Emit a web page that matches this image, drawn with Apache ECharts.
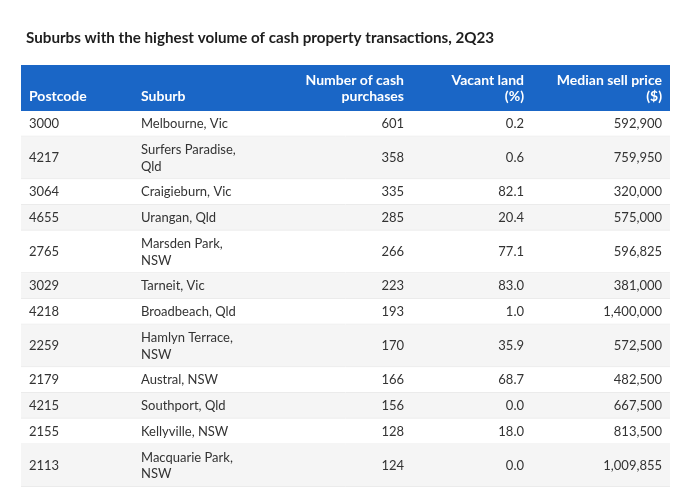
<!DOCTYPE html>
<html><head><meta charset="utf-8">
<script src="https://cdn.jsdelivr.net/npm/echarts@6/dist/echarts.min.js"></script>
<style>html,body{margin:0;padding:0;background:#fff}#c{width:680px;height:502px}</style>
</head><body><div id="c"></div>
<script>
const titleText = 'Suburbs with the highest volume of cash property transactions, 2Q23';
const headers = ['Postcode', 'Suburb', 'Number of cash\npurchases', 'Vacant land\n(%)', 'Median sell price\n($)'];
const postcodes = ['3000', '4217', '3064', '4655', '2765', '3029', '4218', '2259', '2179', '4215', '2155', '2113'];
const suburbs = ['Melbourne, Vic', 'Surfers Paradise,\nQld', 'Craigieburn, Vic', 'Urangan, Qld', 'Marsden Park,\nNSW', 'Tarneit, Vic', 'Broadbeach, Qld', 'Hamlyn Terrace,\nNSW', 'Austral, NSW', 'Southport, Qld', 'Kellyville, NSW', 'Macquarie Park,\nNSW'];
const cashPurchases = [601, 358, 335, 285, 266, 223, 193, 170, 166, 156, 128, 124];
const vacantLand = [0.2, 0.6, 82.1, 20.4, 77.1, 83.0, 1.0, 35.9, 68.7, 0.0, 18.0, 0.0];
const medianPrice = [592900, 759950, 320000, 575000, 596825, 381000, 1400000, 572500, 482500, 667500, 813500, 1009855];

// layout (not data)
const L = {
  headerH: 46, pad: 9, lineH: 16.75, tableW: 649,
  cols: [{x: 8, align: 'left'}, {x: 120, align: 'left'}, {x: 383, align: 'right'}, {x: 503, align: 'right'}, {x: 641, align: 'right'}]
};
const FONT = 'Lato, "Noto Sans", sans-serif';

const rowTexts = postcodes.map((p, i) => [
  p, suburbs[i], String(cashPurchases[i]), vacantLand[i].toFixed(1), medianPrice[i].toLocaleString('en-US')
]);
let acc = L.headerH;
const rowData = rowTexts.map((r, i) => {
  const lines = Math.max(...r.map(t => t.split('\n').length));
  const y0 = acc; acc += L.pad + lines * L.lineH;
  return [i, y0, acc];
});
const totalH = acc;

const chart = echarts.init(document.getElementById('c'), null, {renderer: 'canvas'});
chart.setOption({
  animation: false,
  backgroundColor: '#fff',
  title: {text: titleText, left: 21, top: 26, textStyle: {fontSize: 15.2, fontWeight: 'bold', color: '#1e1e1e', fontFamily: FONT}},
  grid: {left: 21, top: 65, width: L.tableW, height: totalH},
  xAxis: {type: 'value', min: 0, max: L.tableW, show: false},
  yAxis: {type: 'value', min: 0, max: totalH, inverse: true, show: false},
  series: [
    {
      type: 'custom', silent: true, data: [[0, 0, L.headerH]],
      renderItem(params, api) {
        const p0 = api.coord([0, api.value(1)]), p1 = api.coord([L.tableW, api.value(2)]);
        const children = [{type: 'rect', shape: {x: p0[0], y: p0[1], width: p1[0] - p0[0], height: p1[1] - p0[1]}, style: {fill: '#1a66c6'}}];
        headers.forEach((h, c) => {
          const x = api.coord([L.cols[c].x, 0])[0];
          children.push({type: 'text', x: x, y: p1[1] - 6, style: {text: h, fill: '#fff', font: 'bold 14px ' + FONT, align: L.cols[c].align, verticalAlign: 'bottom', lineHeight: 16.5}});
        });
        return {type: 'group', children};
      }
    },
    {
      type: 'custom', silent: true, data: rowData,
      renderItem(params, api) {
        const i = api.value(0);
        const p0 = api.coord([0, api.value(1)]), p1 = api.coord([L.tableW, api.value(2)]);
        const children = [
          {type: 'rect', shape: {x: p0[0], y: p0[1], width: p1[0] - p0[0], height: p1[1] - p0[1]}, style: {fill: i % 2 ? '#f5f5f5' : '#ffffff'}},
          {type: 'line', shape: {x1: p0[0], y1: p1[1] - 0.5, x2: p1[0], y2: p1[1] - 0.5}, style: {stroke: '#ebebeb', lineWidth: 1}}
        ];
        const yc = (p0[1] + p1[1]) / 2;
        rowTexts[i].forEach((t, c) => {
          const x = api.coord([L.cols[c].x, 0])[0];
          children.push({type: 'text', x: x, y: yc, style: {text: t, fill: '#333', font: '13px ' + FONT, align: L.cols[c].align, verticalAlign: 'middle', lineHeight: L.lineH}});
        });
        return {type: 'group', children};
      }
    }
  ]
});
</script></body></html>
